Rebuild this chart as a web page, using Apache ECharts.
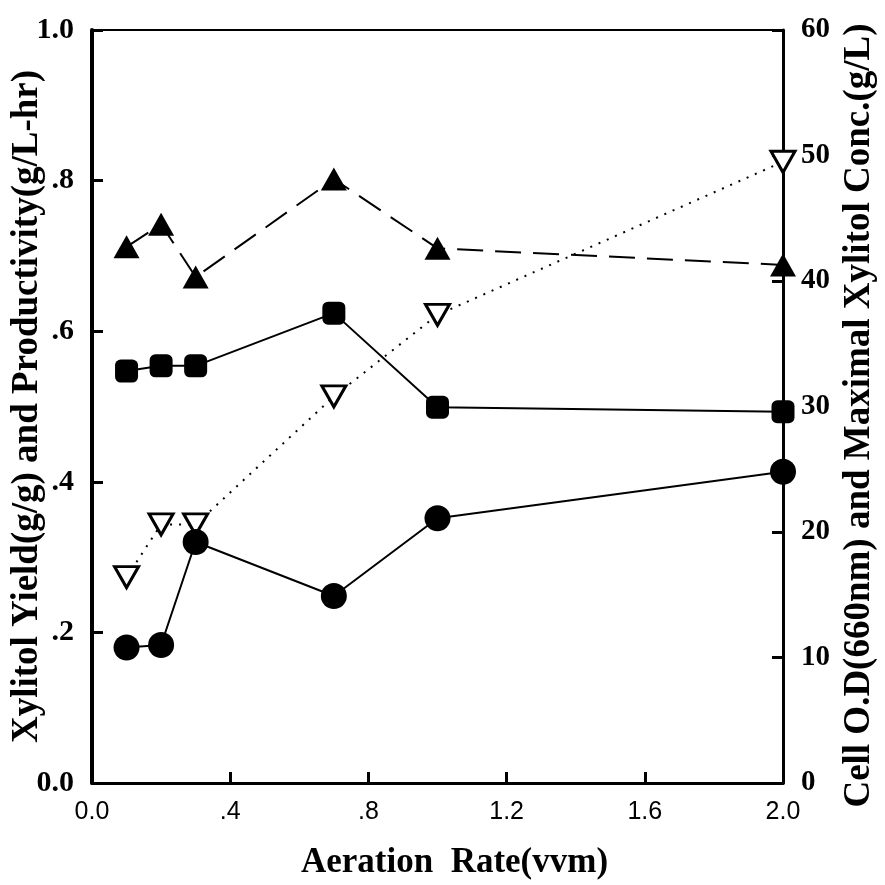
<!DOCTYPE html>
<html>
<head>
<meta charset="utf-8">
<script src="https://cdn.jsdelivr.net/npm/echarts@6/dist/echarts.min.js"></script>
<style>
  html, body { margin: 0; padding: 0; background: #fff; }
  #chart { width: 885px; height: 885px; }
</style>
</head>
<body>
<div id="chart"></div>
<script>
// aeration rate (vvm)
const aeration = [0.1, 0.2, 0.3, 0.7, 1.0, 2.0];
// left axis
const xylitolYield = [0.712, 0.742, 0.672, 0.802, 0.71, 0.688];
const productivity = [0.547, 0.554, 0.554, 0.624, 0.499, 0.493];
// right axis
const cellOD = [10.8, 11.0, 19.2, 14.9, 21.1, 24.8];
const xylitolConc = [16.4, 20.6, 20.6, 30.8, 37.3, 49.5];

const xTicks = ['0.0', '.4', '.8', '1.2', '1.6', '2.0'];
const yLeftTicks = ['0.0', '.2', '.4', '.6', '.8', '1.0'];

function pairs(ys) {
  return aeration.map((x, i) => [x, ys[i]]);
}

const serif = '"Liberation Serif", "Times New Roman", serif';
const sans = '"Liberation Sans", Arial, sans-serif';

const chart = echarts.init(document.getElementById('chart'));

const option = {
  backgroundColor: '#fff',
  animation: false,
  grid: {
    left: 92, right: 102, top: 30, bottom: 102,
    outerBoundsMode: 'none', containLabel: false,
    show: true, borderColor: '#000', borderWidth: 2
  },
  xAxis: {
    type: 'value', min: 0, max: 2, interval: 0.4,
    name: 'Aeration  Rate(vvm)',
    nameLocation: 'middle', nameGap: 62, nameMoveOverlap: false,
    nameTextStyle: { fontFamily: serif, fontWeight: 'bold', fontSize: 35, color: '#000', padding: [0, 0, 0, 34] },
    axisLine: { show: true, lineStyle: { color: '#000', width: 3 } },
    axisTick: { show: true, inside: true, length: 11, lineStyle: { color: '#000', width: 3 } },
    splitLine: { show: false },
    axisLabel: {
      margin: 17, fontFamily: sans, fontSize: 25, color: '#000',
      formatter: v => xTicks[Math.round(v / 0.4)]
    }
  },
  yAxis: [{
    type: 'value', min: 0, max: 1, interval: 0.2, position: 'left',
    name: 'Xylitol Yield(g/g) and Productivity(g/L-hr)',
    nameLocation: 'middle', nameGap: 46, nameRotate: 90, nameMoveOverlap: false,
    nameTextStyle: { fontFamily: serif, fontWeight: 'bold', fontSize: 37, color: '#000' },
    axisLine: { show: true, lineStyle: { color: '#000', width: 4 } },
    axisTick: { show: true, inside: true, length: 11, lineStyle: { color: '#000', width: 3 } },
    splitLine: { show: false },
    axisLabel: {
      margin: 18, fontFamily: serif, fontWeight: 'bold', fontSize: 30, color: '#000',
      formatter: v => yLeftTicks[Math.round(v / 0.2)]
    }
  }, {
    type: 'value', min: 0, max: 60, interval: 10, position: 'right',
    name: 'Cell O.D(660nm) and Maximal Xylitol Conc.(g/L)',
    nameLocation: 'middle', nameGap: 58, nameRotate: 90, nameMoveOverlap: false,
    nameTextStyle: { fontFamily: serif, fontWeight: 'bold', fontSize: 37, color: '#000', padding: [0, 18, 0, 0] },
    axisLine: { show: true, lineStyle: { color: '#000', width: 3 } },
    axisTick: { show: true, inside: true, length: 11, lineStyle: { color: '#000', width: 3 } },
    splitLine: { show: false },
    axisLabel: {
      margin: 18, fontFamily: serif, fontWeight: 'bold', fontSize: 29, color: '#000'
    }
  }],
  series: [{
    name: 'Xylitol yield',
    type: 'line', yAxisIndex: 0, clip: false,
    data: pairs(xylitolYield),
    symbol: 'triangle', symbolSize: [26, 23],
    itemStyle: { color: '#000' },
    lineStyle: { color: '#000', width: 2, type: [26, 12] }
  }, {
    name: 'Productivity',
    type: 'line', yAxisIndex: 0, clip: false,
    data: pairs(productivity),
    symbol: 'roundRect', symbolSize: 23,
    itemStyle: { color: '#000' },
    lineStyle: { color: '#000', width: 2 }
  }, {
    name: 'Maximal xylitol conc.',
    type: 'line', yAxisIndex: 1, clip: false,
    data: pairs(xylitolConc),
    symbol: 'triangle', symbolRotate: 180, symbolSize: [24, 21],
    itemStyle: { color: '#fff', borderColor: '#000', borderWidth: 3 },
    lineStyle: { color: '#000', width: 2, type: [2, 7] }
  }, {
    name: 'Cell O.D',
    type: 'line', yAxisIndex: 1, clip: false,
    data: pairs(cellOD),
    symbol: 'circle', symbolSize: 26,
    itemStyle: { color: '#000' },
    lineStyle: { color: '#000', width: 2 }
  }]
};

chart.setOption(option);
</script>
</body>
</html>
